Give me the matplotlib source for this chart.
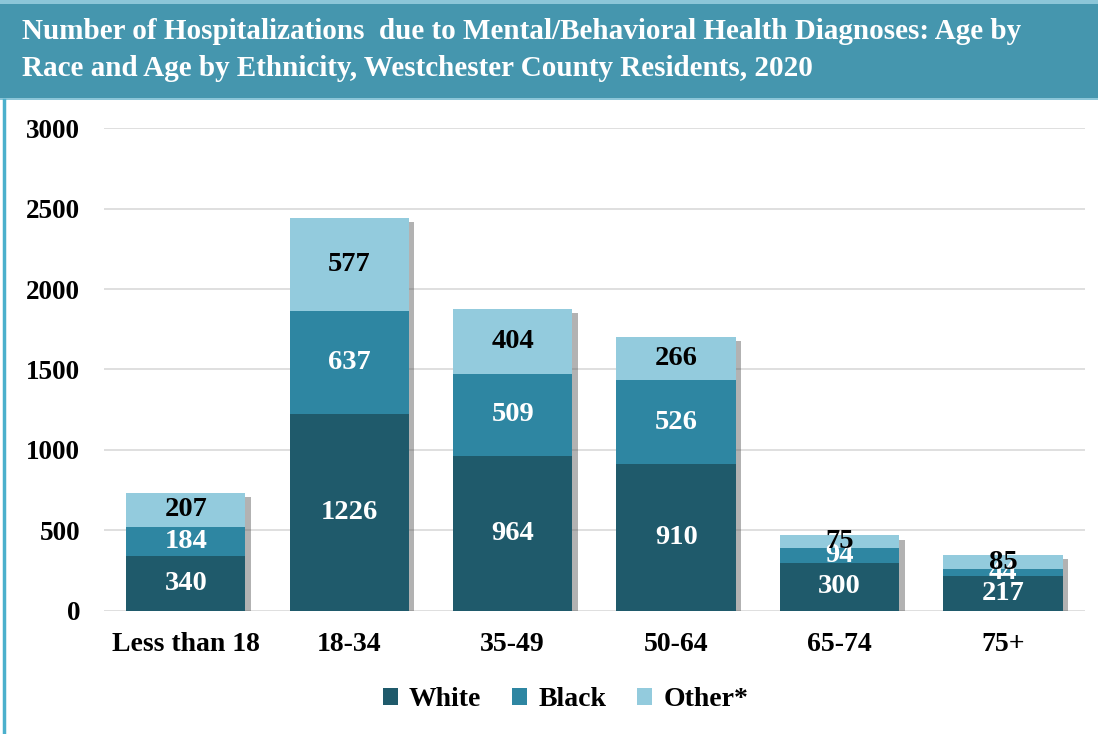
import numpy as np
import matplotlib.pyplot as plt
import matplotlib.patheffects as pe
from matplotlib.patches import Rectangle

plt.rcParams['font.family'] = ['Liberation Serif', 'DejaVu Serif']

# data
age_groups = ["Less than 18", "18-34", "35-49", "50-64", "65-74", "75+"]
white = [340, 1226, 964, 910, 300, 217]
black = [184, 637, 509, 526, 94, 44]
other = [207, 577, 404, 266, 75, 85]
series_names = ["White", "Black", "Other*"]
colors = ["#1f5a6b", "#2e86a2", "#93cbdd"]
label_colors = ["white", "white", "black"]

title = ("Number of Hospitalizations  due to Mental/Behavioral Health Diagnoses: Age by\n"
         "Race and Age by Ethnicity, Westchester County Residents, 2020")

fig = plt.figure(figsize=(10.98, 7.34), dpi=100)

# title banner
banner = fig.add_axes([0, 0.864, 1, 0.136])
banner.set_xlim(0, 1)
banner.set_ylim(0, 1)
banner.axis("off")
banner.add_patch(Rectangle((0, 0), 1, 1, facecolor="#4596ae", edgecolor="none"))
banner.add_patch(Rectangle((0, 0.96), 1, 0.04, facecolor="#8cc6d8", edgecolor="none"))
banner.add_patch(Rectangle((0, 0), 1, 0.02, facecolor="#8cc6d8", edgecolor="none"))
banner.text(0.02, 0.5, title, color="white", fontsize=21, fontweight="bold",
            ha="left", va="center", linespacing=1.45)

# left border line
fig.add_artist(plt.Line2D([0.0035, 0.0035], [0, 0.864], color="#4bb0cc", lw=2.5))

ax = fig.add_axes([0.0947, 0.1676, 0.8933, 0.658])
x = np.arange(len(age_groups))
width = 0.73

# soft shadow behind each whole bar
totals = np.array(white) + np.array(black) + np.array(other)
shadow_bars = ax.bar(x, totals, width, zorder=2)
for b in shadow_bars:
    b.set_path_effects([pe.SimplePatchShadow(offset=(4, -3), shadow_rgbFace="#555555", alpha=0.45)])

bottom = np.zeros(len(age_groups))
for vals, name, col, lc in zip([white, black, other], series_names, colors, label_colors):
    vals = np.array(vals)
    ax.bar(x, vals, width, bottom=bottom, color=col, label=name, zorder=3)
    for xi, v, b0 in zip(x, vals, bottom):
        ax.text(xi, b0 + v / 2, str(v), ha="center", va="center", color=lc,
                fontsize=20.5, fontweight="bold", zorder=5)
    bottom = bottom + vals

ax.set_xlim(-0.5, len(age_groups) - 0.5)
ax.set_ylim(0, 3000)
ax.set_yticks(np.arange(0, 3001, 500))
ax.set_xticks(x)
ax.set_xticklabels(age_groups, fontsize=20, fontweight="bold")
ax.tick_params(axis="y", labelsize=19.5, length=0, pad=17)
ax.tick_params(axis="x", length=0, pad=15)
for lbl in ax.get_yticklabels():
    lbl.set_fontweight("bold")
ax.grid(axis="y", color="#d9d9d9", lw=1.2, zorder=0)
for s in ax.spines.values():
    s.set_visible(False)

fig.legend(loc="center", bbox_to_anchor=(0.515, 0.047), ncol=3, frameon=False,
           prop={"size": 20, "weight": "bold"}, handlelength=0.55, handleheight=0.55,
           handletextpad=0.4, columnspacing=1.1)

fig.savefig("out.png", dpi=100)
